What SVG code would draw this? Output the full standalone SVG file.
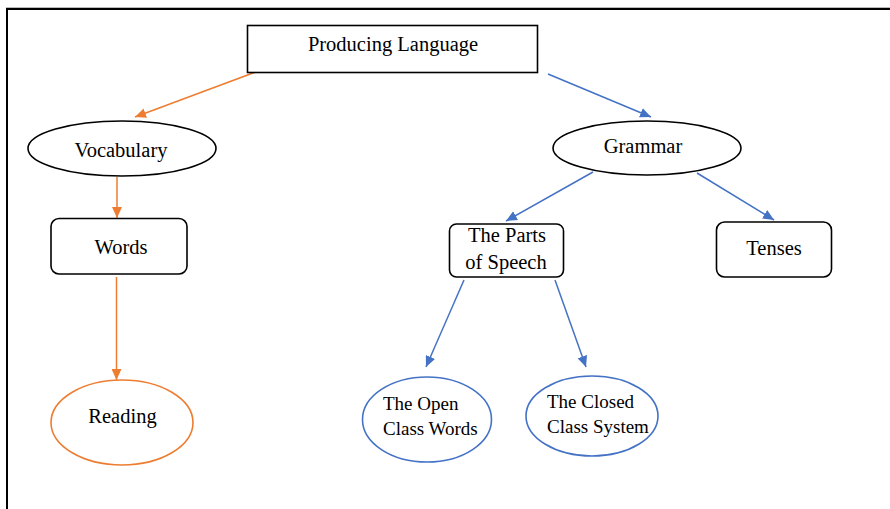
<svg xmlns="http://www.w3.org/2000/svg" width="890" height="509" viewBox="0 0 890 509">
<style>
text{font-family:"Liberation Serif","Times New Roman",serif;font-size:20.5px;fill:#000}
.c{text-anchor:middle}
.s{font-size:19px}
.nb{fill:#fff;stroke:#000;stroke-width:1.6}
.no{fill:#fff;stroke:#ED7D31;stroke-width:1.6}
.nl{fill:#fff;stroke:#4472C4;stroke-width:1.6}
.eo{fill:none;stroke:#ED7D31;stroke-width:1.5}
.el{fill:none;stroke:#4472C4;stroke-width:1.5}
</style>
<defs>
<marker id="ao" markerUnits="userSpaceOnUse" markerWidth="12" markerHeight="10" refX="11" refY="5" orient="auto"><path d="M0,0 L11,5 L0,10 Z" fill="#ED7D31"/></marker>
<marker id="al" markerUnits="userSpaceOnUse" markerWidth="12" markerHeight="10" refX="11" refY="5" orient="auto"><path d="M0,0 L11,5 L0,10 Z" fill="#4472C4"/></marker>
</defs>
<rect width="890" height="509" fill="#fff"/>
<g id="frame">
<line x1="6" y1="7.5" x2="890" y2="7.5" stroke="#bbb" stroke-width="1"/>
<line x1="6" y1="9" x2="890" y2="9" stroke="#000" stroke-width="2"/>
<line x1="7" y1="8" x2="7" y2="509" stroke="#000" stroke-width="2"/>
</g>
<g id="connectors">
<line class="eo" x1="261" y1="70" x2="135" y2="117" marker-end="url(#ao)"/>
<line class="eo" x1="117" y1="177" x2="117" y2="218" marker-end="url(#ao)"/>
<line class="eo" x1="116.5" y1="277" x2="116.5" y2="380" marker-end="url(#ao)"/>
<line class="el" x1="548" y1="74" x2="651" y2="117" marker-end="url(#al)"/>
<line class="el" x1="593" y1="172" x2="506" y2="221" marker-end="url(#al)"/>
<line class="el" x1="697" y1="173" x2="774" y2="220" marker-end="url(#al)"/>
<line class="el" x1="464" y1="280" x2="426" y2="367" marker-end="url(#al)"/>
<line class="el" x1="555" y1="280" x2="586" y2="367" marker-end="url(#al)"/>
</g>
<g id="producing">
<rect class="nb" x="247.5" y="25.5" width="290" height="47"/>
<text class="c" x="393" y="51">Producing Language</text>
</g>
<g id="vocabulary">
<ellipse class="nb" cx="122" cy="148.5" rx="94" ry="27.5"/>
<text class="c" x="121" y="157">Vocabulary</text>
</g>
<g id="words">
<rect class="nb" x="51" y="218.5" width="136" height="55.5" rx="8"/>
<text class="c" x="121" y="254">Words</text>
</g>
<g id="reading">
<ellipse class="no" cx="122" cy="422.5" rx="71" ry="42.5"/>
<text class="c" x="122.5" y="423">Reading</text>
</g>
<g id="grammar">
<ellipse class="nb" cx="647" cy="148" rx="94" ry="27"/>
<text class="c" x="643" y="153">Grammar</text>
</g>
<g id="parts">
<rect class="nb" x="449.5" y="224" width="114" height="53" rx="7"/>
<text class="c" x="507" y="242">The Parts</text>
<text class="c" x="506" y="269">of Speech</text>
</g>
<g id="tenses">
<rect class="nb" x="716.5" y="222" width="115" height="55" rx="8"/>
<text class="c" x="774" y="255">Tenses</text>
</g>
<g id="open">
<ellipse class="nl" cx="427" cy="419.5" rx="64.5" ry="42.5"/>
<text class="s" x="383" y="410">The Open</text>
<text class="s" x="383" y="435">Class Words</text>
</g>
<g id="closed">
<ellipse class="nl" cx="592" cy="416" rx="66" ry="40"/>
<text class="s" x="547" y="408">The Closed</text>
<text class="s" x="547" y="433">Class System</text>
</g>
</svg>
